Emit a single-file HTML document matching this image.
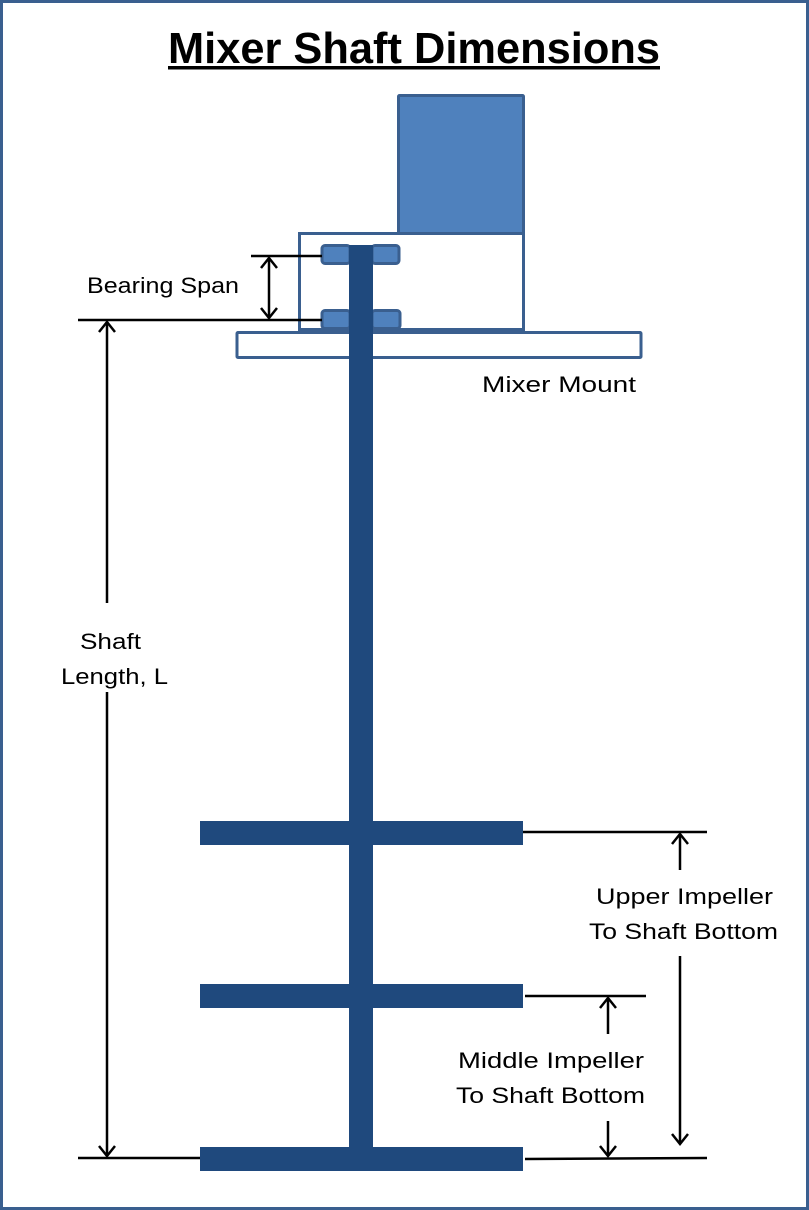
<!DOCTYPE html>
<html><head><meta charset="utf-8"><style>html,body{margin:0;padding:0;background:#fff}svg{display:block}</style></head>
<body>
<svg width="809" height="1210" viewBox="0 0 809 1210" xmlns="http://www.w3.org/2000/svg" font-family="Liberation Sans, sans-serif">
<rect x="1.5" y="1.5" width="806" height="1207" fill="#fff" stroke="#3a5f8f" stroke-width="3"/>
<text x="168" y="63" font-size="44" font-weight="bold" textLength="492" lengthAdjust="spacingAndGlyphs">Mixer Shaft Dimensions</text>
<rect x="168" y="66" width="492" height="3.5" fill="#000"/>
<rect x="398.5" y="95.5" width="125" height="138" fill="#4f81bd" stroke="#3a5f8f" stroke-width="3" rx="1"/>
<rect x="299.5" y="233.5" width="224" height="96" fill="#fff" stroke="#3a5f8f" stroke-width="3"/>
<rect x="237" y="332.5" width="404" height="25" fill="#fff" stroke="#3a5f8f" stroke-width="3" rx="1"/>
<g fill="#4f81bd" stroke="#3a5f8f" stroke-width="3">
<rect x="322" y="245.5" width="28" height="18" rx="3"/>
<rect x="372" y="245.5" width="27" height="18" rx="3"/>
<rect x="322" y="310.5" width="28" height="18" rx="3"/>
<rect x="372" y="310.5" width="28" height="18" rx="3"/>
</g>
<rect x="349" y="245" width="24" height="925" fill="#1f497d"/>
<g fill="#1f497d">
<rect x="200" y="821" width="323" height="24"/>
<rect x="200" y="984" width="323" height="24"/>
<rect x="200" y="1147" width="323" height="24"/>
</g>
<g stroke="#000" stroke-width="2.5" fill="none">
<line x1="251" y1="256" x2="322" y2="256"/>
<line x1="78" y1="320" x2="322" y2="320"/>
<line x1="269" y1="258" x2="269" y2="318"/>
<polyline points="261,268 269,258 277,268"/>
<polyline points="261,308 269,318 277,308"/>
<line x1="107" y1="322" x2="107" y2="603"/>
<line x1="107" y1="692" x2="107" y2="1156"/>
<polyline points="99,332 107,322 115,332"/>
<polyline points="99,1146 107,1156 115,1146"/>
<line x1="78" y1="1158" x2="200" y2="1158"/>
<line x1="523" y1="832" x2="707" y2="832"/>
<line x1="680" y1="834" x2="680" y2="870"/>
<polyline points="672,844 680,834 688,844"/>
<line x1="680" y1="956" x2="680" y2="1144"/>
<polyline points="672,1134 680,1144 688,1134"/>
<line x1="525" y1="996" x2="646" y2="996"/>
<line x1="608" y1="998" x2="608" y2="1034"/>
<polyline points="600,1008 608,998 616,1008"/>
<line x1="608" y1="1121" x2="608" y2="1156"/>
<polyline points="600,1146 608,1156 616,1146"/>
<line x1="525" y1="1159" x2="707" y2="1158"/>
</g>
<g font-size="22" fill="#000">
<text x="87" y="293" textLength="152" lengthAdjust="spacingAndGlyphs">Bearing Span</text>
<text x="482" y="392" textLength="154" lengthAdjust="spacingAndGlyphs">Mixer Mount</text>
<text x="80" y="649" textLength="61" lengthAdjust="spacingAndGlyphs">Shaft</text>
<text x="61" y="684" textLength="107" lengthAdjust="spacingAndGlyphs">Length, L</text>
<text x="596" y="904" textLength="177" lengthAdjust="spacingAndGlyphs">Upper Impeller</text>
<text x="589" y="939" textLength="189" lengthAdjust="spacingAndGlyphs">To Shaft Bottom</text>
<text x="458" y="1068" textLength="186" lengthAdjust="spacingAndGlyphs">Middle Impeller</text>
<text x="456" y="1103" textLength="189" lengthAdjust="spacingAndGlyphs">To Shaft Bottom</text>
</g>
</svg>
</body></html>
